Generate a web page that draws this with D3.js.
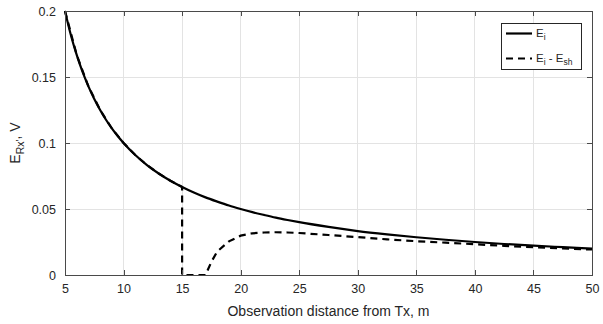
<!DOCTYPE html>
<html>
<head>
<meta charset="utf-8">
<script src="https://cdn.jsdelivr.net/npm/d3@7"></script>
<style>
  html, body { margin: 0; padding: 0; background: #fff; }
  svg { display: block; font-family: "Liberation Sans", Arial, sans-serif; }
</style>
</head>
<body>
<svg id="chart" width="603" height="324"></svg>
<script>
// Observation distances (m) and received field (V)
const distance = [5, 5.5, 6, 6.5, 7, 7.5, 8, 8.5, 9, 9.5, 10, 11, 12, 13, 14, 15, 16, 17, 18, 19, 20,
  21, 22, 23, 24, 25, 27.5, 30, 32.5, 35, 37.5, 40, 42.5, 45, 47.5, 50];
const incident = [0.2, 0.1818, 0.1667, 0.1538, 0.1429, 0.1333, 0.125, 0.1176, 0.1111, 0.1053, 0.1,
  0.0909, 0.0833, 0.0769, 0.0714, 0.0667, 0.0625, 0.0588, 0.0556, 0.0526, 0.05,
  0.0476, 0.0455, 0.0435, 0.0417, 0.04, 0.0364, 0.0333, 0.0308, 0.0286, 0.0267, 0.025, 0.0235, 0.0222, 0.0211, 0.02];

// Incident minus shadowed field
const diffDistance = [5, 6, 7, 8, 9, 10, 11, 12, 13, 14, 15, 15, 16, 17, 17.5, 18, 19, 20, 21, 22, 23, 24, 25,
  27.5, 30, 32.5, 35, 37.5, 40, 42.5, 45, 47.5, 50];
const difference = [0.2, 0.1667, 0.1429, 0.125, 0.1111, 0.1, 0.0909, 0.0833, 0.0769, 0.0714, 0.0667, 0, 0, 0, 0.010, 0.0178, 0.0255, 0.0298, 0.0316, 0.0322, 0.0324, 0.0322, 0.0318,
  0.0303, 0.0287, 0.0270, 0.0256, 0.0245, 0.0233, 0.0221, 0.0211, 0.0201, 0.0193];

const xTicks = [5, 10, 15, 20, 25, 30, 35, 40, 45, 50];
const yTicks = [0, 0.05, 0.1, 0.15, 0.2];
const yTickLabels = ["0", "0.05", "0.1", "0.15", "0.2"];

const svg = d3.select("#chart");
const m = { left: 65, right: 11, top: 11, bottom: 49 };
const W = 603, H = 324;
const x = d3.scaleLinear().domain([5, 50]).range([m.left, W - m.right]);
const y = d3.scaleLinear().domain([0, 0.2]).range([H - m.bottom, m.top]);

const axisColor = "#4a4a4a";
const textColor = "#262626";

// Grid
const grid = svg.append("g");
grid.selectAll(".gx").data(xTicks).join("line")
  .attr("x1", d => x(d)).attr("x2", d => x(d))
  .attr("y1", y(0)).attr("y2", y(0.2))
  .attr("stroke", "#e3e3e3").attr("stroke-width", 1).attr("shape-rendering", "crispEdges");
grid.selectAll(".gy").data(yTicks).join("line")
  .attr("x1", x(5)).attr("x2", x(50))
  .attr("y1", d => y(d)).attr("y2", d => y(d))
  .attr("stroke", "#e3e3e3").attr("stroke-width", 1).attr("shape-rendering", "crispEdges");

// Curves
const lineInc = d3.line().x((d, i) => x(distance[i])).y(d => y(d)).curve(d3.curveMonotoneX);
const lineDiff = d3.line().x((d, i) => x(diffDistance[i])).y(d => y(d)).curve(d3.curveLinear);

svg.append("path").datum(difference)
  .attr("d", lineDiff)
  .attr("fill", "none").attr("stroke", "#000").attr("stroke-width", 2.2)
  .attr("stroke-dasharray", "7,5");

svg.append("path").datum(incident)
  .attr("d", lineInc)
  .attr("fill", "none").attr("stroke", "#000").attr("stroke-width", 2.2);

// Axes (bottom/left with labels, top/right as box with inward ticks)
const fmtY = d => yTickLabels[yTicks.indexOf(d)];
const ax = {
  bottom: d3.axisBottom(x).tickValues(xTicks).tickSizeInner(-5).tickSizeOuter(0).tickPadding(9),
  top: d3.axisTop(x).tickValues(xTicks).tickSizeInner(-5).tickSizeOuter(0).tickFormat(""),
  left: d3.axisLeft(y).tickValues(yTicks).tickSizeInner(-5).tickSizeOuter(0).tickPadding(9).tickFormat(fmtY),
  right: d3.axisRight(y).tickValues(yTicks).tickSizeInner(-5).tickSizeOuter(0).tickFormat("")
};
const gB = svg.append("g").attr("transform", `translate(0,${y(0)})`).call(ax.bottom);
const gT = svg.append("g").attr("transform", `translate(0,${y(0.2)})`).call(ax.top);
const gL = svg.append("g").attr("transform", `translate(${x(5)},0)`).call(ax.left);
const gR = svg.append("g").attr("transform", `translate(${x(50)},0)`).call(ax.right);
[gB, gT, gL, gR].forEach(g => {
  g.selectAll(".domain").attr("stroke", axisColor).attr("shape-rendering", "crispEdges");
  g.selectAll(".tick line").attr("stroke", axisColor).attr("shape-rendering", "crispEdges");
  g.selectAll(".tick text").attr("fill", textColor).style("font-size", "12.5px")
    .style("font-family", "'Liberation Sans', Arial, sans-serif");
});
gB.selectAll(".tick text").attr("dy", "0.71em");

// Axis titles
svg.append("text")
  .attr("x", (x(5) + x(50)) / 2).attr("y", 316)
  .attr("text-anchor", "middle").attr("fill", textColor).style("font-size", "14px")
  .text("Observation distance from Tx, m");

const yl = svg.append("text")
  .attr("transform", `translate(20,${(y(0) + y(0.2)) / 2}) rotate(-90)`)
  .attr("text-anchor", "middle").attr("fill", textColor).style("font-size", "14px");
yl.append("tspan").text("E");
yl.append("tspan").attr("dy", "3.5").style("font-size", "10.5px").text("Rx'");
yl.append("tspan").attr("dy", "-3.5").text(", V");

// Legend
const lg = svg.append("g").attr("transform", "translate(501,23)");
lg.append("rect").attr("width", 80).attr("height", 46)
  .attr("fill", "#fff").attr("stroke", "#262626").attr("stroke-width", 1).attr("shape-rendering", "crispEdges");
lg.append("line").attr("x1", 5).attr("x2", 31).attr("y1", 10.5).attr("y2", 10.5)
  .attr("stroke", "#000").attr("stroke-width", 2.2);
lg.append("line").attr("x1", 5).attr("x2", 31).attr("y1", 35.5).attr("y2", 35.5)
  .attr("stroke", "#000").attr("stroke-width", 2.2).attr("stroke-dasharray", "7,5");
const t1 = lg.append("text").attr("x", 35).attr("y", 14).attr("fill", textColor).style("font-size", "11.5px");
t1.append("tspan").text("E");
t1.append("tspan").attr("dy", "3").style("font-size", "8.5px").text("i");
const t2 = lg.append("text").attr("x", 35).attr("y", 39).attr("fill", textColor).style("font-size", "11.5px");
t2.append("tspan").text("E");
t2.append("tspan").attr("dy", "3").style("font-size", "8.5px").text("i");
t2.append("tspan").attr("dy", "-3").text(" - E");
t2.append("tspan").attr("dy", "3").style("font-size", "8.5px").text("sh");
</script>
</body>
</html>
